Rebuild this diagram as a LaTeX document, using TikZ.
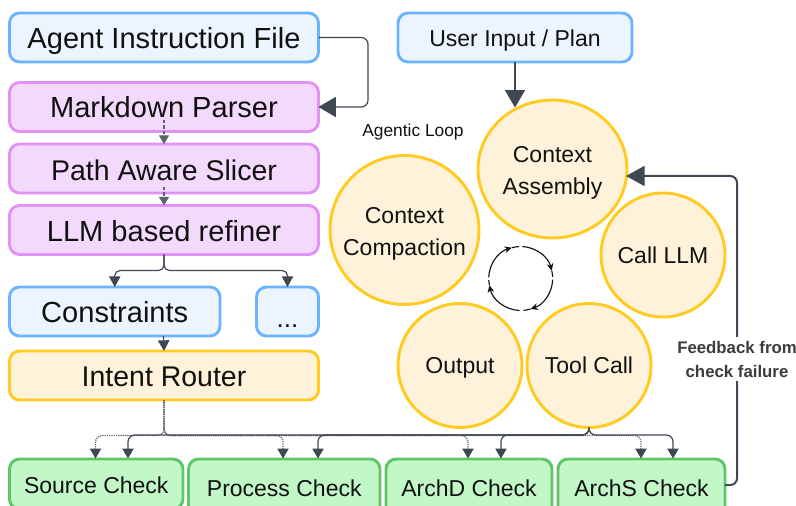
\documentclass[tikz,border=0pt]{standalone}
\usepackage{fontspec}
\setmainfont{Liberation Sans}
\usetikzlibrary{arrows.meta,calc,shapes.geometric}
\definecolor{lnk}{HTML}{3F4753}
\definecolor{bluef}{HTML}{EBF4FF}
\definecolor{blued}{HTML}{6CB4FF}
\definecolor{pinkf}{HTML}{F3DAFC}
\definecolor{pinkd}{HTML}{E092F8}
\definecolor{yelf}{HTML}{FFF2DA}
\definecolor{yeld}{HTML}{FFCB20}
\definecolor{grnf}{HTML}{C2F7C8}
\definecolor{grnd}{HTML}{5CC669}
\definecolor{ink}{HTML}{111111}
\definecolor{notegray}{HTML}{3C3C3C}
\newcommand{\fsbig}{\fontsize{21.8pt}{21.8pt}\selectfont}
\newcommand{\fsbigless}{\fontsize{21.35pt}{21.35pt}\selectfont}
\newcommand{\fsmid}{\fontsize{17.25pt}{23.6pt}\selectfont}
\newcommand{\fssmall}{\fontsize{13pt}{13pt}\selectfont}
\newcommand{\fsnote}{\bfseries\fontsize{12.6pt}{18pt}\selectfont}
\tikzset{
  x=0.75pt,y=-0.75pt,
  boxbase/.style={rectangle,rounded corners=7.5pt,line width=2.2pt,outer sep=0pt,inner sep=0pt,text=ink,align=center},
  bluebox/.style={boxbase,draw=blued,fill=bluef},
  pinkbox/.style={boxbase,draw=pinkd,fill=pinkf},
  yelbox/.style={boxbase,draw=yeld,fill=yelf},
  grnbox/.style={boxbase,draw=grnd,fill=grnf},
  loopnode/.style={ellipse,draw=yeld,fill=yelf,line width=2.2pt,outer sep=0pt,inner xsep=-25pt,inner ysep=-15pt,text=ink,align=center,font=\fsmid},
  dims/.style 2 args={minimum width=#1*0.75pt,minimum height=#2*0.75pt},
  bl/.style={text height=(#1+1.3)*1.5pt,text depth=0pt},
  bigtip/.style={-{Triangle[length=13pt,width=15pt]}},
  fbtip/.style={-{Triangle[length=14pt,width=15pt]}},
  midtip/.style={-{Triangle[length=8pt,width=8.5pt]}},
  lowtip/.style={-{Triangle[length=7.5pt,width=8.5pt,color=lnk]}},
  smalltip/.style={-{Triangle[length=6.5pt,width=7.5pt]}},
  lnkline/.style={draw=lnk,line width=0.9pt,rounded corners=5pt},
  dashline/.style={draw=lnk!85,line width=0.9pt,dash pattern=on 2.5pt off 1.5pt},
  dotline/.style={draw=lnk!80,line width=0.9pt,rounded corners=5pt,dash pattern=on 1pt off .7pt},
  fbline/.style={draw=lnk,line width=1.5pt,rounded corners=5pt},
  spin/.style={draw=ink,line width=0.85pt},
  spintip/.style={-{Stealth[length=5.5pt,width=5pt]}},
}
\begin{document}
\begin{tikzpicture}
\useasboundingbox (0,0) rectangle (796,506);
\clip (0,0) rectangle (796,506);
% left column
\node[bluebox,dims={309}{49},bl=9.8,font=\fsbig] (agent) at (164,37.5) {Agent Instruction File};
\node[pinkbox,dims={309}{49},bl=9.7,font=\fsbig] (md) at (164,107) {Markdown Parser};
\node[pinkbox,dims={309}{49},bl=10.5,font=\fsbigless] (path) at (164,168.5) {Path Aware Slicer};
\node[pinkbox,dims={309}{49},bl=10,font=\fsbig] (llm) at (164,230) {LLM based refiner};
\node[bluebox,dims={210.5}{49},bl=9.2,font=\fsbig] (cons) at (114.75,311.5) {Constraints};
\node[bluebox,dims={62}{49},bl=14.5,font=\fontsize{19.5pt}{19.5pt}\selectfont] (more) at (287.5,311.5) {...};
\node[yelbox,dims={309}{49},bl=9.5,font=\fsbigless] (router) at (164,375.5) {Intent Router};
% checks
\node[grnbox,dims={173.5}{50},bl=7.7,font=\fsmid] (src) at (96.25,484) {Source Check};
\node[grnbox,dims={191.5}{58},bl=7,font=\fsmid] (proc) at (284.25,488) {Process Check};
\node[grnbox,dims={166}{58},bl=7,font=\fsmid] (archd) at (469,488) {ArchD Check};
\node[grnbox,dims={167}{58},bl=7,font=\fsmid] (archs) at (641.5,488) {ArchS Check};
% top right
\node[bluebox,dims={234}{49},bl=7.5,font=\fsmid] (user) at (515,37.5) {User Input / Plan};
\node[loopnode,dims={149}{138}] (assembly) at (552.5,169) {\rule{0pt}{17.9pt}Context\\Assembly};
\node[loopnode,dims={149}{149}] (compact) at (404.5,230) {\rule{0pt}{18pt}Context\\Compaction};
\node[loopnode,dims={124}{124},bl=7] (call) at (663,255) {Call LLM};
\node[loopnode,dims={124}{124},bl=7] (output) at (460,365.5) {Output};
\node[loopnode,dims={124}{124},bl=7] (tool) at (589,365.5) {Tool Call};
\node[text=ink,inner sep=0pt,font=\fssmall] (looplabel) at (413,132) {Agentic Loop};
% loop icon
\coordinate (spinc) at (520.7,278.5);
\draw[spin,spintip] ($(spinc)+(87:24pt)$) arc[start angle=87,end angle=14,radius=24pt];
\draw[spin] ($(spinc)+(14:24pt)$) arc[start angle=14,end angle=3,radius=24pt];
\draw[spin,spintip] ($(spinc)+(-2:24pt)$) arc[start angle=-2,end angle=-72,radius=24pt];
\draw[spin] ($(spinc)+(-72:24pt)$) arc[start angle=-72,end angle=-85,radius=24pt];
\draw[spin,spintip] ($(spinc)+(-92:24pt)$) arc[start angle=-92,end angle=-168,radius=24pt];
\draw[spin] ($(spinc)+(-168:24pt)$) arc[start angle=-168,end angle=-177,radius=24pt];
\draw[spin,spintip] ($(spinc)+(178:24pt)$) arc[start angle=178,end angle=106,radius=24pt];
\draw[spin] ($(spinc)+(106:24pt)$) arc[start angle=106,end angle=93,radius=24pt];
% connectors: left column
\draw[lnkline,bigtip] (agent.east) -- ++(49.5,0) |- (md.east);
\draw[dashline,smalltip] (md.south |- 0,120) -- (path.north);
\draw[dashline,smalltip] (path.south |- 0,187) -- (llm.north);
\draw[lnkline,rounded corners=4pt,midtip] (llm.south) -- ++(0,16) -| (cons.north);
\draw[lnkline,rounded corners=4pt,midtip] (llm.south) -- ++(0,16) -| (more.north);
\coordinate (consout) at ($(cons.south west)+(154,0)$);
\draw[lnkline,midtip] (consout) -- (router.north);
% checks inputs
\coordinate (srcA) at ($(src.north west)+(86,-0.5)$);
\coordinate (srcB) at ($(src.north west)+(118.5,-0.5)$);
\coordinate (procA) at ($(proc.north west)+(94.5,-0.5)$);
\coordinate (procB) at ($(proc.north west)+(129.5,-0.5)$);
\coordinate (archdA) at ($(archd.north west)+(82,-0.5)$);
\coordinate (archdB) at ($(archd.north west)+(115,-0.5)$);
\coordinate (archsA) at ($(archs.north west)+(83,-0.5)$);
\coordinate (archsB) at ($(archs.north west)+(115,-0.5)$);
\foreach \t in {srcA,procA,archdA,archsA}
  \draw[dotline,lowtip] (router.south) -- ++(0,35.5) -| (\t);
\foreach \t in {srcB,procB,archdB,archsB}
  \draw[lnkline,lowtip] (tool.south) -- ++(0,7.5) -| (\t);
% feedback and user
\coordinate (asmin) at ($(assembly.north)+(-37.5,7.5)$);
\draw[lnkline,bigtip] (user.south) -- (asmin);
\coordinate (fbin) at ($(assembly.east)+(-1,7)$);
\draw[fbline,fbtip] (archs.east |- 0,485) -- ++(12,0) |- (fbin);
\node[font=\fsnote,text=notegray,fill=white,align=center,inner sep=0pt,minimum width=124*0.75pt,minimum height=44*0.75pt] (fblabel) at (737,359) {Feedback from\\check failure};
\end{tikzpicture}
\end{document}
